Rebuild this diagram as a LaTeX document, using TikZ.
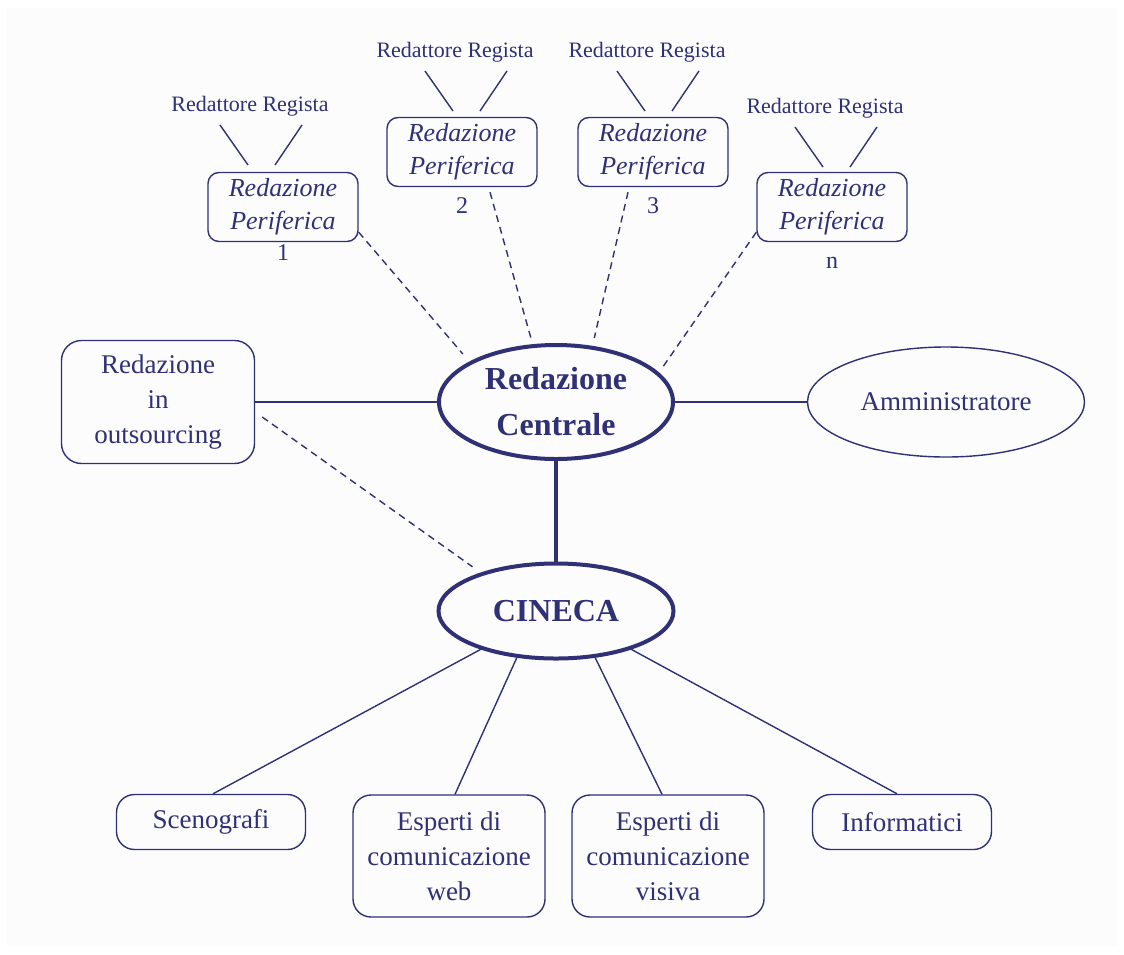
\documentclass[tikz,border=0pt]{standalone}
\usepackage{fontspec}
\setmainfont{Liberation Serif}
\usetikzlibrary{shapes.geometric}
\definecolor{ink}{RGB}{48,48,118}
\definecolor{paper}{RGB}{252,252,253}

\begin{document}
\begin{tikzpicture}[x=1pt,y=-1pt,ink,line width=1.4pt,
  per/.style={draw,rounded corners=11pt,minimum width=150pt,minimum height=69pt,
    inner sep=0pt,align=center,font=\fontsize{26}{33}\selectfont\itshape},
  box/.style={draw,rounded corners=18pt,inner sep=0pt,align=center,
    font=\fontsize{27}{35}\selectfont},
  hub/.style={draw,ellipse,line width=4pt,inner sep=0pt,align=center,
    font=\fontsize{32}{46}\selectfont\bfseries},
  lbl/.style={font=\fontsize{22}{25}\selectfont},
  dline/.style={dash pattern=on 7pt off 5pt}]

\fill[white] (0,0) rectangle (1124,954);
\fill[paper] (7,8) rectangle (1118,946);
\useasboundingbox (0,0) rectangle (1124,954);

\foreach \i/\x/\y/\k/\ky/\rx/\ry in {1/283/207/1/260/250/106, 2/462/152/2/213/455/52,
    3/653/152/3/213/647/52, 4/832/207/n/268/825/108} {
  \node[per] (p\i) at (\x,\y) {Redazione\\Periferica};
  \node[anchor=base,font=\fontsize{24}{24}\selectfont] (k\i) at (\x,\ky) {\k};
  \node[lbl] (r\i) at (\rx,\ry) {Redattore Regista};
  \draw ([xshift=-30pt,yshift=-19pt]r\i.center) -- ([xshift=-2pt,yshift=-59pt]r\i.center)
        ([xshift=52pt,yshift=-19pt]r\i.center) -- ([xshift=25pt,yshift=-59pt]r\i.center);
}

\node[hub,minimum width=234pt,minimum height=114pt] (rc) at (556,402) {Redazione\\Centrale};
\node[hub,minimum width=235pt,minimum height=95pt] (cn) at (556,611) {CINECA};
\node[draw,ellipse,minimum width=277pt,minimum height=110pt,inner sep=0pt,
  font=\fontsize{27}{35}\selectfont] (am) at (946,402) {Amministratore};
\node[box,rounded corners=20pt,minimum width=193pt,minimum height=123pt] (os) at (158,402)
  {Redazione\\in\\outsourcing};

\node[box,minimum width=189pt,minimum height=55pt] (sc) at (211,822) {Scenografi};
\node[box,minimum width=192pt,minimum height=122pt] (we) at (449,856)
  {Esperti di\\comunicazione\\web};
\node[box,minimum width=192pt,minimum height=122pt] (vi) at (668,856)
  {Esperti di\\comunicazione\\visiva};
\node[box,minimum width=179pt,minimum height=55pt] (inf) at (902,822) {Informatici};

\draw (os.east) -- (rc.west);
\draw (rc.east) -- (am.west);
\draw[line width=4pt] (rc.south) -- (cn.north);

\draw[dline,shorten >=10pt] ([yshift=10pt]p1.south east) -- (rc.155);
\draw[dline,shorten >=6pt] ([xshift=28pt,yshift=-5pt]p2.south) -- (rc.112);
\draw[dline,shorten >=8pt] ([xshift=-25pt,yshift=-5pt]p3.south) -- (rc.57);
\draw[dline,shorten >=6pt] ([yshift=10pt]p4.south west) -- (rc.16);
\draw[dline,shorten >=10pt] ([xshift=7pt,yshift=-15pt]os.east) -- (cn.153);

\draw (cn.207) -- ([xshift=2pt]sc.north);
\draw (cn.230) -- ([xshift=6pt]we.north);
\draw (cn.310) -- ([xshift=-6pt]vi.north);
\draw (cn.333) -- ([xshift=-5pt]inf.north);

\end{tikzpicture}
\end{document}
